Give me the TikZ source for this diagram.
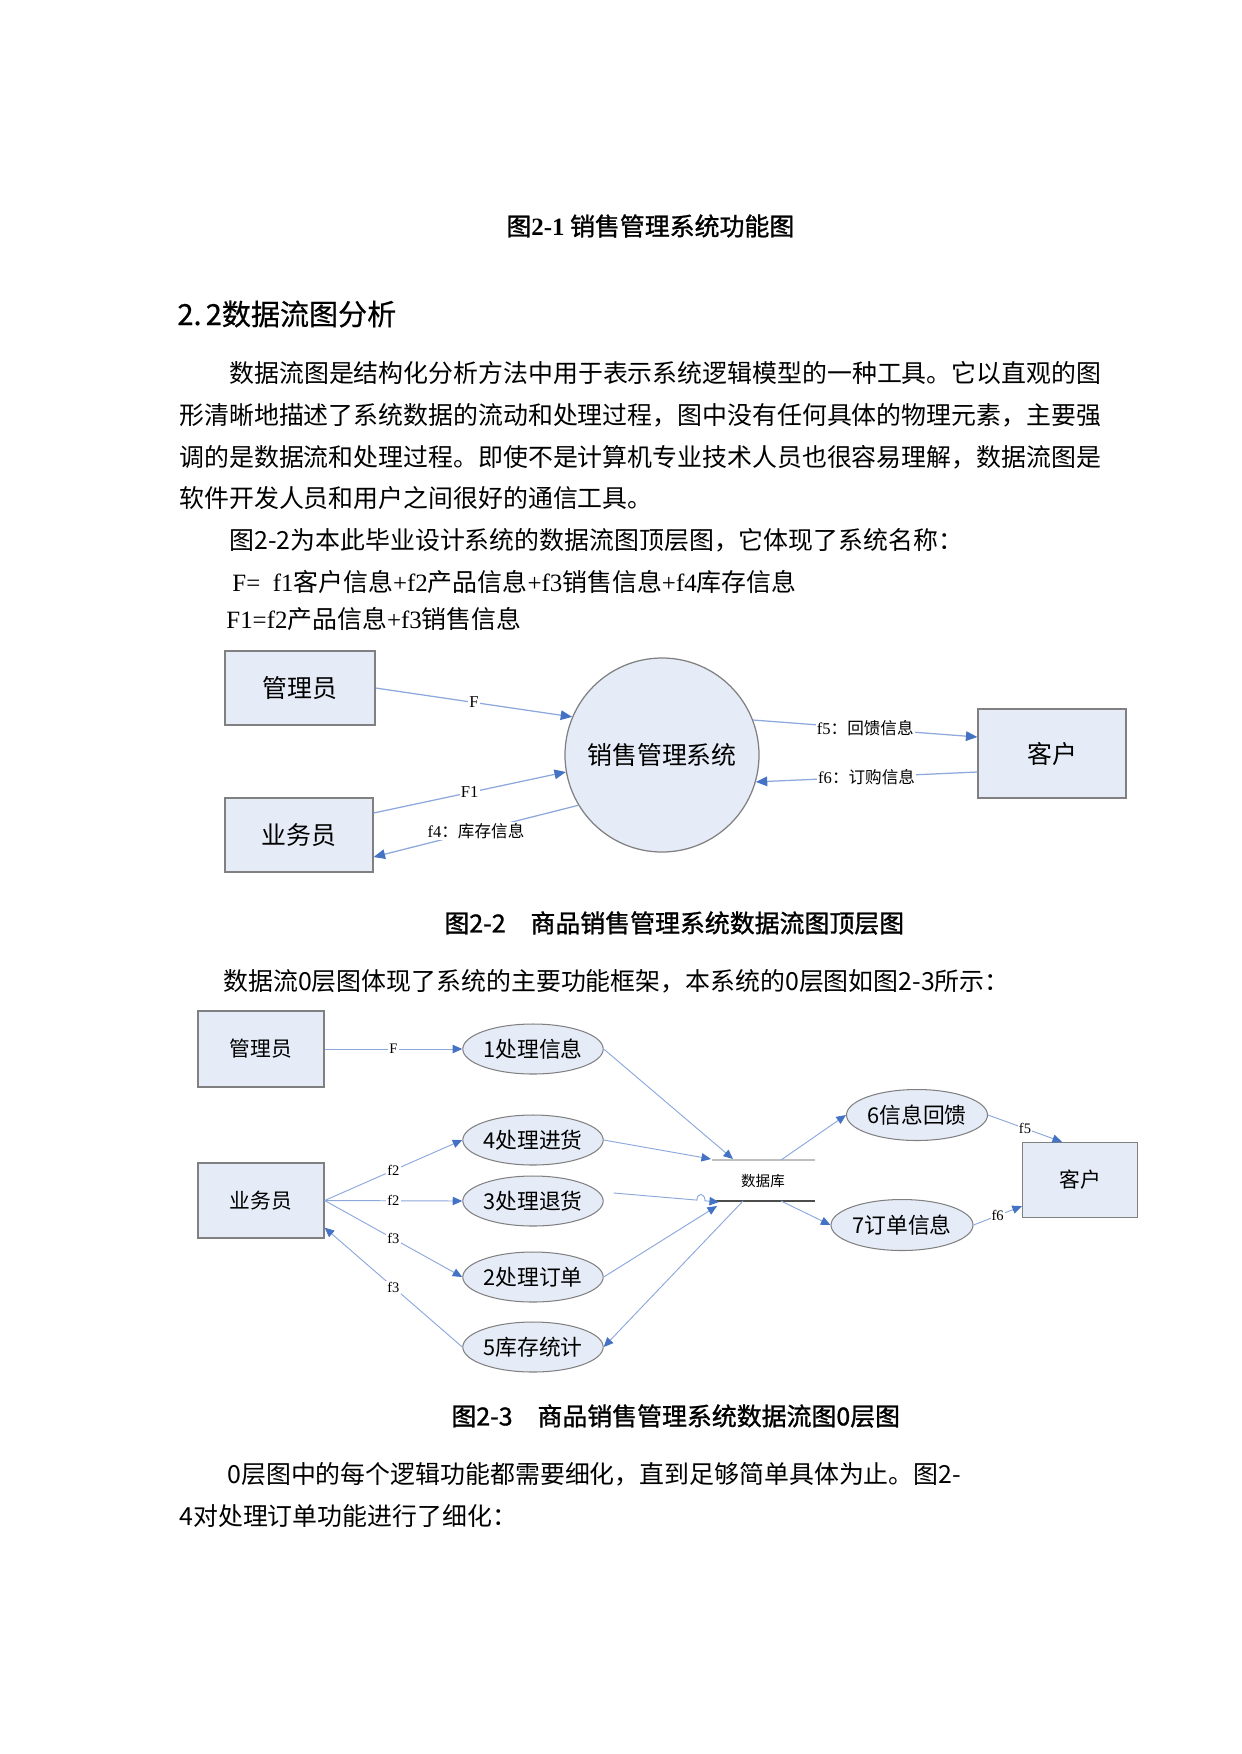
\documentclass[tikz,border=0pt]{standalone}
\usepackage{fontspec}
\setmainfont{Noto Sans CJK SC}
\newfontfamily\lat{Liberation Serif}
\newfontfamily\cjkb[FakeBold=1.2]{Noto Sans CJK SC}
\newfontfamily\cjkh[FakeBold=0.6]{Noto Sans CJK SC}
\usetikzlibrary{arrows.meta,calc,shapes.geometric}
\definecolor{boxfill}{RGB}{230,236,247}
\definecolor{boxline}{RGB}{128,128,128}
\definecolor{flow}{RGB}{140,168,220}
\definecolor{tipc}{RGB}{68,114,196}
\def\upx{0.16933mm}
\newcommand\fsz[1]{\fontsize{#1}{#1}\selectfont}
\tikzset{
  txt/.style={anchor=west, inner sep=0pt, font=\fsz{12}},
  ent/.style={rectangle, draw=boxline, fill=boxfill, line width=0.6pt, inner sep=0pt},
  procs/.style={ellipse, draw=boxline, fill=boxfill, line width=0.5pt, inner sep=0pt,
    minimum width=140*\upx, minimum height=50*\upx, font=\fsz{10.5}},
  fl/.style={draw=flow, line width=0.6pt, -{Triangle[length=5.5pt,width=4.6pt,color=tipc]}},
  fls/.style={draw=flow, line width=0.45pt, -{Triangle[length=4.6pt,width=4pt,color=tipc]}},
  lab/.style={fill=white, inner sep=0.6pt, font=\fsz{8}},
  labs/.style={fill=white, inner sep=0.5pt, font=\fsz{7}},
}
\begin{document}
\begin{tikzpicture}[x=0.16933mm,y=-0.16933mm]
\fill[white] (0,0) rectangle (1241,1754);
\useasboundingbox (0,0) rectangle (1241,1754);

% ---------- text ----------
\node[txt] (cap1) at (506,226) {{\cjkb 图}{\lat\bfseries 2-1} {\cjkb 销售管理系统功能图}};
\node[txt, font=\fsz{14}\cjkh] (head) at (177,314) {2.\hspace{2pt}2数据流图分析};
\node[txt] (p1) at (229,373) {数据流图是结构化分析方法中用于表示系统逻辑模型的一种工具。它以直观的图};
\node[txt] (p2) at (179,415) {形清晰地描述了系统数据的流动和处理过程，图中没有任何具体的物理元素，主要强};
\node[txt] (p3) at (179,457) {调的是数据流和处理过程。即使不是计算机专业技术人员也很容易理解，数据流图是};
\node[txt] (p4) at (179,498) {软件开发人员和用户之间很好的通信工具。};
\node[txt] (p5) at (229,540) {图2-2为本此毕业设计系统的数据流图顶层图，它体现了系统名称：};
\node[txt] (p6) at (232,582) {{\lat F=\hspace{3pt} f1}客户信息{\lat +f2}产品信息{\lat +f3}销售信息{\lat +f4}库存信息};
\node[txt] (p7) at (226,619) {{\lat F1=f2}产品信息{\lat +f3}销售信息};

% ---------- top-level DFD ----------
\node[ent, font=\fsz{12}, minimum width=150*\upx, minimum height=74*\upx] (gl1) at (300,688) {管理员};
\node[ent, font=\fsz{12}, minimum width=148*\upx, minimum height=74*\upx] (yw1) at (299,835) {业务员};
\node[circle, draw=boxline, fill=boxfill, line width=0.6pt, inner sep=0pt, minimum size=194*\upx, font=\fsz{12}] (sys) at (662,755) {销售管理系统};
\node[ent, font=\fsz{12}, minimum width=148*\upx, minimum height=89*\upx] (kh1) at (1052,753.5) {客户};

\draw[fl] (gl1.east) -- node[lab]{\lat F} (sys.157.8);
\draw[fl] ($(yw1.east)+(0,-22)$) -- node[lab]{\lat F1} (sys.190.7);
\draw[fl] (sys.211) -- node[lab]{{\lat f4}：库存信息} ($(yw1.east)+(0,22)$);
\draw[fl] (sys.21) -- node[lab]{{\lat f5}：回馈信息} ($(kh1.west)+(0,-16.5)$);
\draw[fl] ($(kh1.west)+(0,18.5)$) -- node[lab]{{\lat f6}：订购信息} (sys.344.5);

\node[txt] (cap2) at (444,923) {{\cjkb 图2-2\hspace{12pt}商品销售管理系统数据流图顶层图}};
\node[txt] (p8) at (223,981) {数据流0层图体现了系统的主要功能框架，本系统的0层图如图2-3所示：};

% ---------- level-0 DFD ----------
\node[ent, font=\fsz{10}, minimum width=126*\upx, minimum height=76*\upx] (gl2) at (261,1049) {管理员};
\node[ent, font=\fsz{10}, minimum width=126*\upx, minimum height=75*\upx] (yw2) at (261,1200.5) {业务员};
\node[ent, font=\fsz{10}, minimum width=115*\upx, minimum height=75*\upx] (kh2) at (1080,1180) {客户};

\node[procs] (e1) at (533,1049) {1处理信息};
\node[procs] (e4) at (533,1140) {4处理进货};
\node[procs] (e3) at (533,1201) {3处理退货};
\node[procs] (e2) at (533,1277) {2处理订单};
\node[procs] (e5) at (533,1347) {5库存统计};
\node[procs, minimum width=141*\upx, minimum height=51*\upx] (e6) at (917,1115) {6信息回馈};
\node[procs, minimum width=142*\upx, minimum height=51*\upx] (e7) at (902,1225) {7订单信息};

% data store
\coordinate (dbTL) at (712,1160);
\coordinate (dbTR) at (815,1160);
\coordinate (dbBL) at (712,1201);
\coordinate (dbBR) at (815,1201);
\draw[gray!50, line width=1.2pt] (dbTL) -- (dbTR);
\draw[black!70, line width=0.7pt] (dbBL) -- (dbBR);
\node[inner sep=0pt, font=\fsz{7}] (db) at (763,1181) {数据库};

\coordinate (dbin1) at (733,1159);
\coordinate (dbin4) at (711,1159);
\coordinate (dbin3) at (719,1202);
\coordinate (dbin2) at (717,1206);
\coordinate (dbout5) at (743,1201);
\coordinate (dbout6) at (781,1160);
\coordinate (dbout7) at (781,1201);
\coordinate (hopA) at (697,1200.1);
\coordinate (hopB) at (705,1200.8);

\draw[fls] (gl2.east) -- node[labs]{\lat F} (e1.west);
\draw[fls] (yw2.east) -- node[labs]{\lat f2} (e4.west);
\draw[fls] (yw2.east) -- node[labs]{\lat f2} (e3.west);
\draw[fls] (yw2.east) -- node[labs]{\lat f3} (e2.west);
\draw[fls] (e5.west) -- node[labs]{\lat f3} ($(yw2.south east)+(0,-11)$);

\draw[fls] (e1.east) -- (dbin1);
\draw[fls] (e4.east) -- (dbin4);
\draw[fls] ($(e3.east)+(10,-8)$) -- (hopA) .. controls +(0,-8) and +(0,-8) .. (hopB) -- (dbin3);
\draw[fls] (e2.east) -- (dbin2);
\draw[fls] (dbout5) -- (e5.east);
\draw[fls] (dbout6) -- (e6.west);
\draw[fls] (dbout7) -- (e7.west);
\draw[fls] (e6.east) -- node[labs]{\lat f5} ($(kh2.north)+(-18,0)$);
\draw[fls] (e7.east) -- node[labs]{\lat f6} ($(kh2.south west)+(0,-12)$);

\node[txt] (cap3) at (451,1416) {{\cjkb 图2-3\hspace{12pt}商品销售管理系统数据流图0层图}};
\node[txt] (p9) at (227,1474) {0层图中的每个逻辑功能都需要细化，直到足够简单具体为止。图2-};
\node[txt] (p10) at (179,1516) {4对处理订单功能进行了细化：};
\end{tikzpicture}
\end{document}
